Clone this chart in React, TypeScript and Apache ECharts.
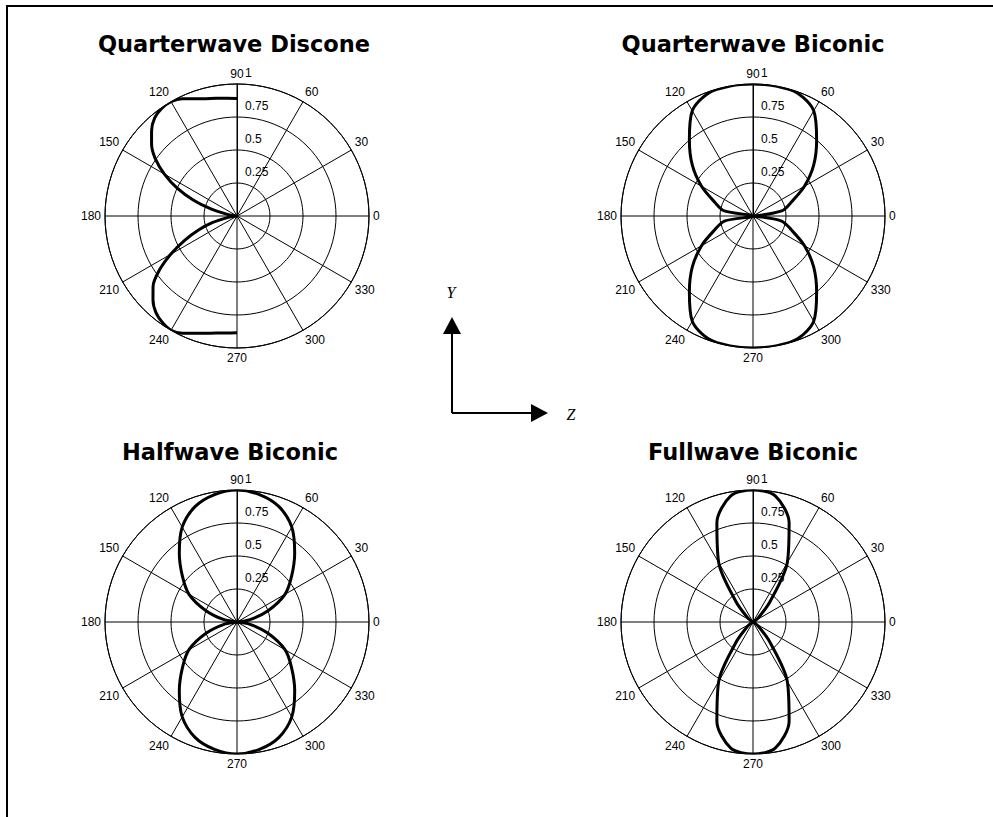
import React, { useEffect, useRef } from 'react';
import * as echarts from 'echarts';

// Relative field strength (0..1) against direction in degrees.
const disconeAngles = [
  90, 95, 100, 105, 110, 115, 120, 125, 130, 135, 140, 145, 150, 155, 160, 165, 170, 175, 180,
  185, 190, 195, 200, 205, 210, 215, 220, 225, 230, 235, 240, 245, 250, 255, 260, 265, 270,
];
const quarterwaveDiscone = [
  0.89, 0.895, 0.905, 0.92, 0.945, 0.98, 1.0, 0.995, 0.97, 0.915, 0.845, 0.755, 0.635, 0.5, 0.35, 0.2, 0.08, 0.02, 0,
  0.02, 0.08, 0.19, 0.31, 0.44, 0.58, 0.72, 0.83, 0.9, 0.955, 0.985, 1.0, 0.98, 0.945, 0.92, 0.9, 0.89, 0.885,
];

const biconicAngles = [
  0, 10, 20, 30, 40, 50, 60, 70, 80, 90, 100, 110, 120, 130, 140, 150, 160, 170, 180,
  190, 200, 210, 220, 230, 240, 250, 260, 270, 280, 290, 300, 310, 320, 330, 340, 350, 360,
];
const quarterwaveBiconic = [
  0, 0.22, 0.31, 0.45, 0.6, 0.75, 0.92, 0.99, 1.0, 1.0, 1.0, 0.99, 0.92, 0.75, 0.6, 0.45, 0.31, 0.22, 0,
  0.22, 0.31, 0.45, 0.6, 0.75, 0.92, 0.99, 1.0, 1.0, 1.0, 0.99, 0.92, 0.75, 0.6, 0.45, 0.31, 0.22, 0,
];
const halfwaveBiconic = [
  0, 0.1, 0.25, 0.42, 0.54, 0.68, 0.83, 0.93, 0.98, 1.0, 0.98, 0.93, 0.83, 0.68, 0.54, 0.42, 0.25, 0.1, 0,
  0.1, 0.25, 0.42, 0.54, 0.68, 0.83, 0.93, 0.98, 1.0, 0.98, 0.93, 0.83, 0.68, 0.54, 0.42, 0.25, 0.1, 0,
];
const fullwaveBiconic = [
  0, 0, 0, 0.02, 0.06, 0.2, 0.52, 0.8, 0.97, 1.0, 0.97, 0.8, 0.52, 0.2, 0.06, 0.02, 0, 0, 0,
  0, 0, 0.02, 0.06, 0.2, 0.52, 0.8, 0.97, 1.0, 0.97, 0.8, 0.52, 0.2, 0.06, 0.02, 0, 0, 0,
];

const panelTitles = ['Quarterwave Discone', 'Quarterwave Biconic', 'Halfwave Biconic', 'Fullwave Biconic'];
const panelAngles = [disconeAngles, biconicAngles, biconicAngles, biconicAngles];
const panelGains = [quarterwaveDiscone, quarterwaveBiconic, halfwaveBiconic, fullwaveBiconic];

// Panel geometry (pixels)
const panelCenters: [number, number][] = [
  [237, 216],
  [753, 216],
  [237, 622],
  [753, 622],
];
const titleCenters: [number, number][] = [
  [234, 44],
  [753, 44],
  [230, 452],
  [753, 452],
];
const plotRadius = 132;

const INK = '#000';
const LABEL_FONT = '"Liberation Sans", Arial, sans-serif';

// The angle axis runs 90 -> 450 counter-clockwise so that the radius axis
// (and its labels) sits on the vertical 90-degree spoke.
const toAxisAngle = (a: number) => (a < 90 ? a + 360 : a);

export default function App() {
  const ref = useRef<HTMLDivElement>(null);

  useEffect(() => {
    if (!ref.current) return;
    const chart = echarts.init(ref.current, undefined, { renderer: 'svg' });

    const polar = panelCenters.map((c) => ({ center: c, radius: plotRadius }));

    const angleAxis = panelCenters.map((_, i) => ({
      polarIndex: i,
      type: 'value',
      min: 90,
      max: 450,
      interval: 30,
      startAngle: 90,
      clockwise: false,
      axisLine: { show: true, lineStyle: { color: INK, width: 1 } },
      axisTick: { show: false },
      axisLabel: {
        show: true,
        margin: 4,
        color: INK,
        fontSize: 12,
        fontFamily: LABEL_FONT,
        formatter: (v: number) => String(v % 360),
      },
      splitLine: { show: true, lineStyle: { color: INK, width: 1 } },
    }));

    const radiusAxis = panelCenters.map((_, i) => ({
      polarIndex: i,
      type: 'value',
      min: 0,
      max: 1,
      interval: 0.25,
      axisLine: { show: true, lineStyle: { color: INK, width: 1 } },
      axisTick: { show: false },
      axisLabel: {
        show: true,
        margin: -8,
        align: 'left',
        verticalAlign: 'bottom',
        padding: [0, 0, 5, 0],
        color: INK,
        fontSize: 12,
        fontFamily: LABEL_FONT,
        formatter: (v: number) => (v === 0 ? '' : String(v)),
      },
      splitLine: { show: true, lineStyle: { color: INK, width: 1 } },
    }));

    const series = panelGains.map((gains, i) => ({
      type: 'line',
      coordinateSystem: 'polar',
      polarIndex: i,
      showSymbol: false,
      symbol: 'none',
      smooth: 0.3,
      z: 10,
      lineStyle: { color: INK, width: 3 },
      data: gains.map((g, k) => [g, toAxisAngle(panelAngles[i][k])]),
    }));

    const titles = panelTitles.map((t, i) => ({
      type: 'text',
      x: titleCenters[i][0],
      y: titleCenters[i][1],
      style: {
        text: t,
        fill: INK,
        font: 'bold 22.5px "DejaVu Sans", sans-serif',
        align: 'center',
        verticalAlign: 'middle',
        textAlign: 'center',
        textVerticalAlign: 'middle',
      },
    }));

    // Coordinate triad between the panels
    const ox = 452;
    const oy = 413;
    const triad = [
      { type: 'line', shape: { x1: ox, y1: oy, x2: ox, y2: 333 }, style: { stroke: INK, lineWidth: 2 } },
      { type: 'polygon', shape: { points: [[ox, 317], [ox - 9, 334], [ox + 9, 334]] }, style: { fill: INK } },
      { type: 'line', shape: { x1: ox, y1: oy, x2: 532, y2: oy }, style: { stroke: INK, lineWidth: 2 } },
      { type: 'polygon', shape: { points: [[548, oy], [531, oy - 9], [531, oy + 9]] }, style: { fill: INK } },
      {
        type: 'text', x: 451, y: 292,
        style: {
          text: 'Y', fill: INK, font: 'italic 16px "Liberation Serif", serif',
          align: 'center', verticalAlign: 'middle', textAlign: 'center', textVerticalAlign: 'middle',
        },
      },
      {
        type: 'text', x: 571, y: 414,
        style: {
          text: 'Z', fill: INK, font: 'italic 16px "Liberation Serif", serif',
          align: 'center', verticalAlign: 'middle', textAlign: 'center', textVerticalAlign: 'middle',
        },
      },
    ];

    // Frame edges along the top and left
    const frame = [
      { type: 'rect', shape: { x: 6, y: 5, width: 987, height: 2 }, style: { fill: INK } },
      { type: 'rect', shape: { x: 6, y: 5, width: 2, height: 812 }, style: { fill: INK } },
    ];

    chart.setOption({
      animation: false,
      backgroundColor: '#fff',
      polar,
      angleAxis,
      radiusAxis,
      series,
      graphic: [...frame, ...titles, ...triad],
    } as any);

    return () => chart.dispose();
  }, []);

  return (
    <div
      ref={ref}
      style={{ position: 'absolute', left: 0, top: 0, width: 993, height: 817 }}
    />
  );
}
